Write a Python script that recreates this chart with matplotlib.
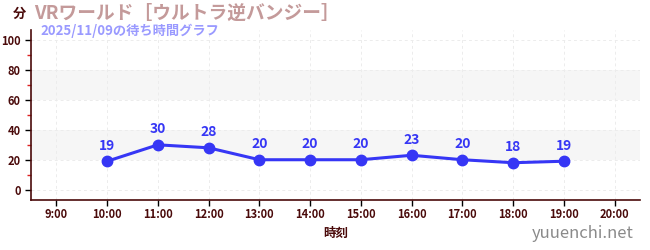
import matplotlib
matplotlib.use('Agg')
import matplotlib.pyplot as plt
from matplotlib.ticker import MultipleLocator

plt.rcParams['font.family'] = ['Noto Sans CJK JP', 'DejaVu Sans']

# data
hours = [10, 11, 12, 13, 14, 15, 16, 17, 18, 19]
waits = [19, 30, 28, 20, 20, 20, 23, 20, 18, 19]
tick_hours = list(range(9, 21))
tick_labels = [f'{h}:00' for h in tick_hours]

title = 'VRワールド［ウルトラ逆バンジー］'
subtitle = '2025/11/09の待ち時間グラフ'

dark = '#4a0a0a'
blue = '#3636f5'

fig = plt.figure(figsize=(6.5, 2.5), dpi=100)
ax = fig.add_axes([31 / 650, 50 / 250, 609 / 650, 170 / 250])

ax.set_xlim(8.5, 20.5)
ax.set_ylim(-7, 107)

# alternating bands
for lo, hi in [(20, 40), (60, 80)]:
    ax.axhspan(lo, hi, color='#f6f6f6', zorder=0, lw=0)

ax.set_xticks(tick_hours)
ax.set_xticklabels(tick_labels)
ax.set_yticks(range(0, 101, 20))
ax.yaxis.set_minor_locator(MultipleLocator(10))
ax.grid(True, which='major', linestyle=(0, (3, 3)), color='#ececec', lw=0.7)

ax.plot(hours, waits, color=blue, lw=2.2, marker='o', markersize=7.5, zorder=3)
for h, w in zip(hours, waits):
    ax.annotate(str(w), (h, w), xytext=(0, 6), textcoords='offset points',
                ha='center', va='bottom', color=blue, fontsize=10, fontweight='bold')

for s in ['top', 'right']:
    ax.spines[s].set_visible(False)
for s in ['left', 'bottom']:
    ax.spines[s].set_color(dark)
    ax.spines[s].set_linewidth(1.2)

ax.tick_params(axis='both', which='major', colors='black', labelcolor=dark,
               labelsize=8, length=4, width=1)
ax.tick_params(axis='y', which='minor', colors='#dd2222', length=3, width=1)
ax.tick_params(axis='x', pad=2)
for lab in ax.get_xticklabels() + ax.get_yticklabels():
    lab.set_fontweight('bold')

ax.set_xlabel('時刻', color=dark, fontsize=9, fontweight='bold', labelpad=4)

fig.text(13 / 650, 236 / 250, '分', color=dark, fontsize=9.5, fontweight='bold',
         va='center', ha='left')
fig.text(34 / 650, 237 / 250, title, color='#c49a9a', fontsize=13.5,
         fontweight='bold', va='center', ha='left')
fig.text(40 / 650, 219 / 250, subtitle, color='#9a9aff', fontsize=9.5,
         fontweight='bold', va='center', ha='left')
fig.text(634 / 650, 16 / 250, 'yuuenchi.net', color='#8a8a8a', fontsize=12,
         va='center', ha='right')

fig.savefig('out.png', dpi=100)
